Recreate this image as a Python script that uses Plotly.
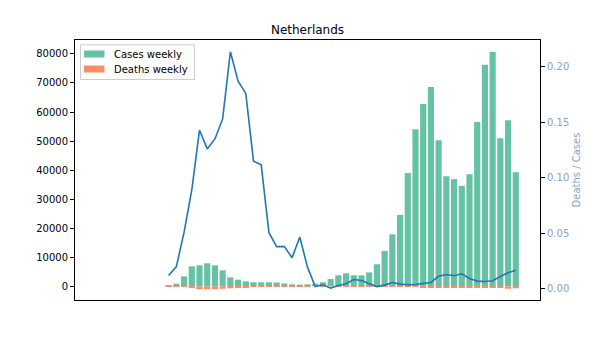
import plotly.graph_objects as go

# week index (first 9 weeks have no data)
weeks = list(range(55))
cases_weekly = [0] * 9 + [
    300, 900, 3450, 6900, 7240, 7930, 7240, 5500, 3100, 2300,
    1720, 1400, 1400, 1400, 1300, 1000, 700, 600, 700, 900,
    1400, 2500, 3800, 4500, 3800, 3800, 4800, 7600, 12200, 17900,
    24600, 39000, 54100, 62760, 68600, 50300, 37900, 36900, 34600, 38600,
    56550, 76300, 80700, 51000, 57200, 39300,
]
deaths_weekly = [0] * 9 + [
    4, 18, 175, 615, 1035, 1000, 975, 840, 660, 430,
    300, 160, 155, 70, 50, 38, 20, 28, 14, 2,
    5, 2, 11, 20, 32, 28, 22, 15, 40, 100,
    105, 140, 210, 300, 390, 575, 490, 430, 465, 360,
    390, 500, 580, 560, 825, 660,
]
ratio_weeks = list(range(9, 55))
deaths_per_case = [
    0.012, 0.020, 0.051, 0.089, 0.143, 0.126, 0.135, 0.153, 0.2135, 0.187,
    0.176, 0.115, 0.1116, 0.0505, 0.038, 0.038, 0.028, 0.0466, 0.0195, 0.002,
    0.0036, 0.0006, 0.003, 0.0045, 0.0084, 0.0075, 0.0045, 0.002, 0.0033, 0.0057,
    0.0042, 0.0036, 0.0039, 0.0048, 0.0057, 0.0114, 0.0129, 0.0117, 0.0135, 0.0093,
    0.0069, 0.0066, 0.0072, 0.011, 0.0144, 0.0168,
]
left_ticks = [0, 10000, 20000, 30000, 40000, 50000, 60000, 70000, 80000]
right_ticks = [0.0, 0.05, 0.10, 0.15, 0.20]
legend_labels = ["Cases weekly", "Deaths weekly"]
legend_colors = ["#66c2a5", "#fc8d62"]

FONT = "DejaVu Sans"
W, H = 600, 337
ML, MR, MT, MB = 75, 60, 40, 37
PW, PH = W - ML - MR, H - MT - MB


def px(x):
    return (x - ML) / PW


def py(y):
    return 1 - (y - MT) / PH


fig = go.Figure()
fig.add_trace(go.Bar(x=weeks, y=cases_weekly, name=legend_labels[0],
                     marker=dict(color=legend_colors[0], line=dict(width=0))))
fig.add_trace(go.Bar(x=weeks, y=[-d for d in deaths_weekly], name=legend_labels[1],
                     marker=dict(color=legend_colors[1], line=dict(width=0))))
fig.add_trace(go.Scatter(x=ratio_weeks, y=deaths_per_case, mode="lines", yaxis="y2",
                         line=dict(color="#1f77b4", width=1.6), showlegend=False))

# matplotlib-style legend (frame, patches, labels)
shapes = [dict(type="rect", xref="paper", yref="paper",
               x0=px(80.5), x1=px(194.5), y0=py(79.5), y1=py(44.8),
               line=dict(color="#cccccc", width=1),
               fillcolor="rgba(255,255,255,0.8)", layer="above")]
annotations = []
for i, (lab, col) in enumerate(zip(legend_labels, legend_colors)):
    cy = 54 + 15 * i
    shapes.append(dict(type="rect", xref="paper", yref="paper",
                       x0=px(84), x1=px(104.5), y0=py(cy + 3.5), y1=py(cy - 3.5),
                       line=dict(width=0), fillcolor=col, layer="above"))
    annotations.append(dict(text=lab, xref="paper", yref="paper", x=px(112), y=py(cy),
                            xanchor="left", yanchor="middle", showarrow=False,
                            font=dict(size=10, color="black")))

fig.update_layout(
    width=W, height=H,
    margin=dict(l=ML, r=MR, t=MT, b=MB, pad=0),
    paper_bgcolor="white", plot_bgcolor="white",
    font=dict(family=FONT, size=10, color="black"),
    barmode="overlay", bargap=0.2, showlegend=False,
    shapes=shapes, annotations=annotations,
    title=dict(text="Netherlands", x=307.5 / W, xanchor="center",
               y=1 - 29.5 / H, yanchor="middle", yref="container",
               font=dict(size=12, color="black")),
    xaxis=dict(range=[-3.14, 57.14], showticklabels=False, ticks="",
               showgrid=False, zeroline=False, showline=True, mirror=True,
               linecolor="black", linewidth=1),
    yaxis=dict(range=[-4700, 84800], tickvals=left_ticks, tickformat="d",
               ticks="outside", ticklen=4, tickcolor="black", showgrid=False,
               zeroline=False, showline=True, mirror=True, linecolor="black",
               linewidth=1, tickfont=dict(size=10, color="black")),
    yaxis2=dict(range=[-0.0101, 0.2241], overlaying="y", side="right",
                tickvals=right_ticks, tickformat=".2f", ticks="outside", ticklen=4,
                tickcolor="black", showgrid=False, zeroline=False, showline=True,
                linecolor="black", linewidth=1,
                tickfont=dict(size=10, color="#8da0cb"),
                title=dict(text="Deaths / Cases", standoff=4,
                           font=dict(size=10, color="#8da0cb"))),
)
fig.write_html("out.html")
